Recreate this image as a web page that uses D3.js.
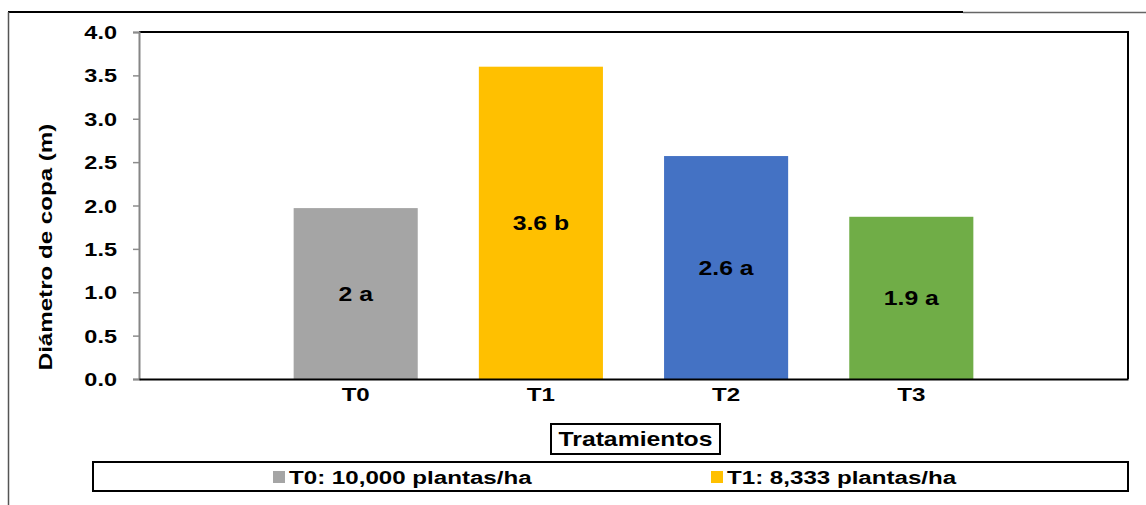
<!DOCTYPE html>
<html>
<head>
<meta charset="utf-8">
<script src="https://cdn.jsdelivr.net/npm/d3@7"></script>
<style>
  html, body { margin: 0; padding: 0; background: #fff; }
  svg { display: block; }
  text { font-family: "Liberation Sans", Arial, sans-serif; font-weight: bold; fill: #000; }
</style>
</head>
<body>
<svg id="chart" width="1146" height="505"></svg>
<script>
// ---- data ----
const categories = ["T0", "T1", "T2", "T3"];
const values = [1.97, 3.60, 2.57, 1.87];
const barLabels = ["2 a", "3.6 b", "2.6 a", "1.9 a"];
const colors = ["#A5A5A5", "#FFC000", "#4472C4", "#70AD47"];
const yTicks = [0, 0.5, 1.0, 1.5, 2.0, 2.5, 3.0, 3.5, 4.0];
const yTitle = "Diámetro de copa (m)";
const xTitle = "Tratamientos";
const legendLabels = ["T0: 10,000 plantas/ha", "T1: 8,333 plantas/ha"];

// ---- layout ----
const W = 1146, H = 505;
const plot = { left: 139, right: 1128, top: 32, bottom: 379 };
const SX = 1.27; // horizontal text stretch

const svg = d3.select("#chart");

// stretched text helper
function stext(g, x, y, str, size, anchor, rot) {
  return g.append("text")
    .attr("transform", `translate(${x},${y}) rotate(${rot || 0}) scale(${SX},1)`)
    .attr("text-anchor", anchor || "middle")
    .attr("font-size", size)
    .text(str);
}

// outer frame lines
svg.append("line").attr("x1", 8).attr("x2", 963).attr("y1", 12).attr("y2", 12)
  .attr("stroke", "#000").attr("stroke-width", 2);
svg.append("line").attr("x1", 963).attr("x2", 1146).attr("y1", 12.5).attr("y2", 12.5)
  .attr("stroke", "#666").attr("stroke-width", 1.3);
svg.append("line").attr("x1", 8.5).attr("x2", 8.5).attr("y1", 12).attr("y2", H)
  .attr("stroke", "#555").attr("stroke-width", 1.5);

// scales
const x = d3.scaleBand().domain(categories)
  .range([plot.left, plot.right]).paddingInner(0.33).paddingOuter(0.835);
const y = d3.scaleLinear().domain([0, 4]).range([plot.bottom, plot.top]);

// plot frame (top and right)
svg.append("path")
  .attr("d", `M${plot.left},${plot.top}H${plot.right}V${plot.bottom}`)
  .attr("fill", "none").attr("stroke", "#000").attr("stroke-width", 2);

// bars
svg.append("g").selectAll("rect").data(categories).join("rect")
  .attr("x", d => x(d))
  .attr("width", x.bandwidth())
  .attr("y", (d, i) => y(values[i]))
  .attr("height", (d, i) => y(0) - y(values[i]))
  .attr("fill", (d, i) => colors[i]);

// y axis
const yAxis = svg.append("g").attr("transform", `translate(${plot.left},0)`)
  .call(d3.axisLeft(y).tickValues(yTicks).tickFormat(d3.format(".1f")).tickSize(6).tickPadding(14));
yAxis.select(".domain").attr("stroke", "#868686").attr("stroke-width", 2);
yAxis.selectAll(".tick line").attr("stroke", "#8c8c8c").attr("stroke-width", 1.5);
yAxis.selectAll(".tick text").remove();
yAxis.selectAll(".tick").each(function(d) {
  stext(d3.select(this), -22, 6.5, d3.format(".1f")(d), 18.5, "end");
});

// x axis
const xAxis = svg.append("g").attr("transform", `translate(0,${plot.bottom})`)
  .call(d3.axisBottom(x).tickSize(0).tickSizeOuter(0));
xAxis.select(".domain").attr("stroke", "#000").attr("stroke-width", 2.2);
xAxis.selectAll(".tick text").remove();
xAxis.selectAll(".tick").each(function(d) {
  stext(d3.select(this), 0, 22, d, 19, "middle");
});

// bar labels
svg.append("g").selectAll("g").data(categories).join("g")
  .each(function(d, i) {
    const cx = x(d) + x.bandwidth() / 2;
    const cy = (y(values[i]) + y(0)) / 2;
    stext(d3.select(this), cx, cy + 7, barLabels[i], 19.5, "middle");
  });

// y title
stext(svg, 52, 247, yTitle, 19, "middle", -90);

// x title box
const tb = { x: 551, y: 424, w: 169, h: 30 };
svg.append("rect").attr("x", tb.x).attr("y", tb.y).attr("width", tb.w).attr("height", tb.h)
  .attr("fill", "#fff").attr("stroke", "#000").attr("stroke-width", 2);
stext(svg, tb.x + tb.w / 2, tb.y + 22, xTitle, 19.5, "middle");

// legend
const lg = { x: 93, y: 462, w: 1035, h: 29 };
svg.append("rect").attr("x", lg.x).attr("y", lg.y).attr("width", lg.w).attr("height", lg.h)
  .attr("fill", "#fff").attr("stroke", "#000").attr("stroke-width", 2);
const legendX = [273, 711];
legendLabels.forEach((lab, i) => {
  svg.append("rect").attr("x", legendX[i]).attr("y", 471).attr("width", 12).attr("height", 12)
    .attr("fill", colors[i]);
  stext(svg, legendX[i] + 16, 484, lab, 19, "start");
});
</script>
</body>
</html>
